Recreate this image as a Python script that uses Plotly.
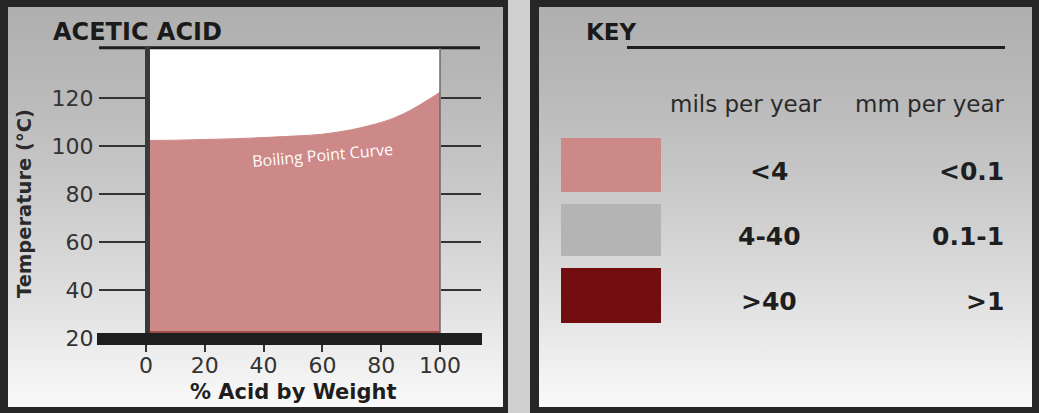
import plotly.graph_objects as go

# ---------------- data ----------------
pct_acid = [0, 10, 20, 30, 40, 50, 60, 70, 80, 85, 90, 95, 100]
boiling_temp = [102.5, 102.6, 102.9, 103.2, 103.7, 104.3, 105.1, 107.0, 110.0, 112.2, 115.1, 118.7, 122.6]
x_ticks = [0, 20, 40, 60, 80, 100]
y_ticks = [20, 40, 60, 80, 100, 120]
key_colors = ["#cd8888", "#b4b4b4", "#720e10"]
key_mils = ["<4", "4-40", ">40"]
key_mm = ["<0.1", "0.1-1", ">1"]

W, H = 1039, 413
PINK = key_colors[0]
DARK = "#262626"
TXT = "#222222"
FONT = "DejaVu Sans"

fig = go.Figure()

# gradient panel backgrounds (canvas axes in pixel units)
grad = [[0, "rgb(175,175,175)"], [0.2325, "rgb(186,186,186)"], [0.4825, "rgb(203,203,203)"],
        [0.7325, "rgb(224,224,224)"], [1, "rgb(250,250,250)"]]
for x0, x1 in [(8, 503), (539, 1032)]:
    fig.add_trace(go.Scatter(
        x=[x0, x1, x1, x0, x0], y=[7, 7, 407, 407, 7], mode="lines",
        line=dict(width=0), fill="toself",
        fillgradient=dict(type="vertical", colorscale=grad, start=7, stop=407),
        hoverinfo="skip", showlegend=False, xaxis="x", yaxis="y"))

# boiling point curve (region below it)
fig.add_trace(go.Scatter(
    x=pct_acid, y=boiling_temp, mode="lines", line=dict(color=PINK, width=1, shape="spline"),
    fill="tozeroy", fillcolor=PINK, hoverinfo="skip", showlegend=False,
    xaxis="x2", yaxis="y2"))
# invisible trace for the right-hand tick axis
fig.add_trace(go.Scatter(x=[None], y=[None], xaxis="x2", yaxis="y3",
                         showlegend=False, hoverinfo="skip"))

shapes = []
def rect(x0, y0, x1, y1, color, layer="below"):
    shapes.append(dict(type="rect", xref="x", yref="y", x0=x0, y0=y0, x1=x1, y1=y1,
                       fillcolor=color, line=dict(width=0), layer=layer))
def line(x0, y0, x1, y1, color, w, layer="above"):
    shapes.append(dict(type="line", xref="x", yref="y", x0=x0, y0=y0, x1=x1, y1=y1,
                       line=dict(color=color, width=w), layer=layer))

# frames and gap
rect(0, 0, W, H, DARK)
rect(508, 0, 530, H, "#d0d0d0")

# chart decorations
line(99, 47.7, 480, 47.7, "#1e1e1e", 3)
line(150, 332, 440, 332, "#a04a4a", 2)
line(147.5, 47, 147.5, 339, "#3a3a3a", 5)
line(440, 48, 440, 333, "#6a6a6a", 1.5)
rect(97, 333, 482, 345, "#1e1e1e", layer="above")

# key
line(627, 47.5, 1005, 47.5, "#1e1e1e", 3)
sw_y = [(138, 192), (204, 256), (268, 323)]
for c, (a, b) in zip(key_colors, sw_y):
    rect(561, a, 661, b, c, layer="above")

ann = []
def text(x, y, s, size, bold=False, color=TXT, xanchor="center", angle=0, family=FONT):
    ann.append(dict(xref="x", yref="y", x=x, y=y, text=f"<b>{s}</b>" if bold else s,
                    showarrow=False, xanchor=xanchor, yanchor="middle", textangle=angle,
                    font=dict(family=family, size=size, color=color)))

text(51, 32, "ACETIC ACID", 24, bold=True, color="#1a1a1a", xanchor="left")
text(584, 32, "KEY", 23, bold=True, color="#1a1a1a", xanchor="left")
text(24, 204, "Temperature (°C)", 19.5, bold=True, color="#2a2a2a", angle=-90)
text(293, 392, "% Acid by Weight", 21, bold=True, color="#1e1e1e")
text(322, 155, "Boiling Point Curve", 16, color="white", angle=-5, family="Open Sans")
text(746, 104, "mils per year", 23, color="#2a2a2a")
text(1006, 104, "mm per year", 23, color="#2a2a2a", xanchor="right")
for (a, b), m, mm in zip(sw_y, key_mils, key_mm):
    cy = (a + b) / 2 + 6
    text(769, cy, m, 25, bold=True, color="#1e1e1e")
    text(1006, cy, mm, 25, bold=True, color="#1e1e1e", xanchor="right")

y_top, y_bot = 48, 338.5
fig.update_layout(
    width=W, height=H, margin=dict(l=0, r=0, t=0, b=0, pad=0, autoexpand=False),
    paper_bgcolor=DARK, plot_bgcolor="white", showlegend=False,
    shapes=shapes, annotations=ann,
    xaxis=dict(domain=[0, 1], range=[0, W], visible=False, fixedrange=True, automargin=False),
    yaxis=dict(domain=[0, 1], range=[H, 0], visible=False, fixedrange=True, automargin=False),
    xaxis2=dict(domain=[146 / W, 440 / W], range=[0, 100], anchor="y2", automargin=False,
                tickvals=x_ticks, ticks="outside", ticklen=12, tickwidth=2, tickcolor="#333",
                showgrid=False, zeroline=False, showline=False, ticklabelstandoff=-5,
                tickfont=dict(family=FONT, size=22, color="#333")),
    yaxis2=dict(domain=[(H - y_bot) / H, (H - y_top) / H], range=[20, 141], anchor="x2",
                automargin=False,
                tickvals=y_ticks, ticks="outside", ticklen=46, tickwidth=2, tickcolor="#333",
                showgrid=False, zeroline=False, showline=False, ticklabelstandoff=1,
                tickfont=dict(family=FONT, size=22, color="#333")),
    yaxis3=dict(overlaying="y2", side="right", anchor="x2", range=[20, 141], automargin=False,
                tickvals=y_ticks, ticks="outside", ticklen=40, tickwidth=2, tickcolor="#333",
                showticklabels=False, showgrid=False, zeroline=False, showline=False),
)

fig.write_html("out.html", config={"displayModeBar": False},
               post_script="document.body.style.margin='0';document.body.style.overflow='hidden';")
